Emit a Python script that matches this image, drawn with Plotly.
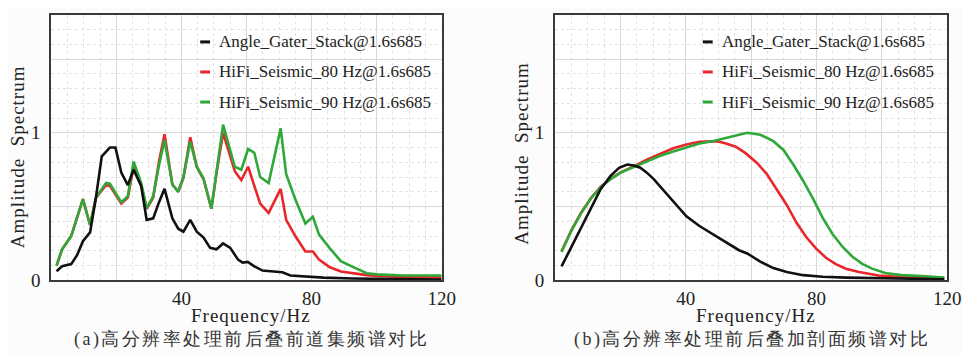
import plotly.graph_objects as go

# ---------------- data ----------------
names = ["Angle_Gater_Stack@1.6s685",
         "HiFi_Seismic_80 Hz@1.6s685",
         "HiFi_Seismic_90 Hz@1.6s685"]
colors = ["#111111", "#e8262b", "#2fa83a"]

# panel (a): prestack gathers
black_a_f = [1.6, 3.3, 6.1, 7.9, 9.7, 11.9, 13.7, 15.5, 18.0, 19.7, 21.5, 23.5, 25.3, 27.6,
             29.3, 31.3, 33.1, 34.8, 37.2, 39.0, 40.6, 42.7, 44.7, 46.8, 48.8, 50.8, 52.8,
             55.0, 57.4, 58.8, 60.4, 62.4, 64.9, 67.5, 71.0, 73.5, 77.6, 83.6, 92.7, 108.0, 120.0]
black_a = [0.062, 0.095, 0.11, 0.17, 0.265, 0.325, 0.56, 0.84, 0.90, 0.90, 0.73, 0.645, 0.75, 0.64,
           0.41, 0.42, 0.53, 0.62, 0.42, 0.35, 0.33, 0.41, 0.33, 0.29, 0.22, 0.21, 0.25,
           0.22, 0.14, 0.12, 0.125, 0.095, 0.066, 0.06, 0.055, 0.033, 0.025, 0.018, 0.012, 0.008, 0.005]

rg_a_f = [1.6, 3.3, 6.1, 9.7, 11.9, 13.7, 16.8, 18.0, 21.5, 23.5, 25.3, 27.6, 29.3, 31.3, 33.1,
          34.8, 37.2, 39.0, 40.6, 42.7, 44.7, 46.8, 49.2, 50.8, 52.8, 56.4, 58.4, 60.5, 62.4,
          64.2, 66.8, 70.5, 72.2, 75.0, 78.1, 80.4, 82.3, 85.5, 89.0, 93.0, 97.0, 100.0, 108.0, 120.0]
red_a = [0.10, 0.21, 0.30, 0.55, 0.375, 0.56, 0.645, 0.64, 0.52, 0.56, 0.77, 0.65, 0.485, 0.56, 0.805,
         0.99, 0.65, 0.60, 0.695, 0.97, 0.77, 0.685, 0.485, 0.73, 1.00, 0.74, 0.68, 0.77, 0.64,
         0.52, 0.457, 0.62, 0.41, 0.30, 0.195, 0.195, 0.14, 0.09, 0.06, 0.045, 0.035, 0.03, 0.022, 0.02]
green_a = [0.10, 0.21, 0.30, 0.55, 0.375, 0.56, 0.66, 0.655, 0.53, 0.57, 0.805, 0.66, 0.49, 0.57, 0.78,
           0.95, 0.65, 0.60, 0.70, 0.94, 0.77, 0.69, 0.485, 0.74, 1.055, 0.77, 0.75, 0.89, 0.865,
           0.70, 0.66, 1.03, 0.72, 0.55, 0.385, 0.43, 0.31, 0.22, 0.13, 0.088, 0.048, 0.04, 0.033, 0.033]

# panel (b): stacked sections
black_b_f = [2.0, 5.0, 8.0, 11.0, 14.0, 17.0, 19.6, 22.1, 24.1, 26.1, 28.1, 30.2, 33.2, 36.2,
             40.2, 44.2, 48.2, 52.3, 56.3, 58.8, 62.8, 66.8, 70.9, 75.9, 81.9, 89.0, 99.0, 119.1]
black_b = [0.094, 0.226, 0.357, 0.489, 0.62, 0.708, 0.763, 0.785, 0.778, 0.763, 0.73, 0.686, 0.61, 0.533,
           0.434, 0.368, 0.314, 0.259, 0.204, 0.182, 0.127, 0.083, 0.057, 0.035, 0.024, 0.018, 0.013, 0.007]
red_b_f = [2.0, 5.0, 8.0, 11.0, 14.0, 17.0, 20.1, 24.1, 28.1, 32.2, 36.2, 40.2, 44.2, 48.2, 50.3,
           52.3, 55.3, 58.3, 61.8, 64.8, 67.8, 70.9, 73.9, 76.9, 79.9, 82.9, 85.9, 89.0, 93.0,
           99.0, 106.0, 119.1]
red_b = [0.196, 0.338, 0.458, 0.557, 0.634, 0.688, 0.732, 0.772, 0.818, 0.855, 0.895, 0.921, 0.939, 0.943, 0.939,
         0.928, 0.906, 0.862, 0.796, 0.72, 0.62, 0.511, 0.39, 0.292, 0.215, 0.153, 0.11, 0.079, 0.057,
         0.033, 0.022, 0.013]
green_b_f = [2.0, 5.0, 8.0, 11.0, 14.0, 17.0, 20.1, 24.1, 28.1, 32.2, 36.2, 40.2, 44.2, 48.2, 52.3,
             56.3, 58.8, 62.8, 66.8, 69.9, 72.9, 75.9, 78.9, 81.9, 84.9, 88.0, 91.0, 94.0, 97.0,
             101.0, 106.0, 112.1, 119.1]
green_b = [0.193, 0.336, 0.456, 0.555, 0.632, 0.686, 0.73, 0.768, 0.807, 0.844, 0.873, 0.899, 0.928, 0.943, 0.965,
           0.987, 1.0, 0.987, 0.943, 0.884, 0.785, 0.675, 0.555, 0.423, 0.314, 0.226, 0.16, 0.112, 0.079,
           0.05, 0.035, 0.029, 0.018]

x_tickvals = [0, 20, 40, 60, 80, 100, 120]
x_ticktext = ["", "", "40", "", "80", "", "120"]
y_tickvals = [0, 0.5, 1, 1.5]
y_ticktext = ["0", "", "1", ""]
x_title = "Frequency/Hz"
y_title = "Amplitude  Spectrum"
captions = ["(a)高分辨率处理前后叠前道集频谱对比", "(b)高分辨率处理前后叠加剖面频谱对比"]

# ---------------- layout geometry ----------------
W, H = 970, 356
PANELS = [(44, 440), (555, 953)]
Y_TOP, Y_BOT = 7, 281

def px(x):
    return x / W

def py(y):
    return 1 - y / H

SERIF = "Times New Roman, Liberation Serif, serif"
TXT = "#222222"

def spaced(s, sp):
    return '<span style="letter-spacing:%spx">%s</span>' % (sp, s)

fig = go.Figure()

series = [
    [(rg_a_f, red_a, 1), (rg_a_f, green_a, 2), (black_a_f, black_a, 0)],
    [(red_b_f, red_b, 1), (green_b_f, green_b, 2), (black_b_f, black_b, 0)],
]
for p, lst in enumerate(series):
    xa = "x" if p == 0 else "x2"
    ya = "y" if p == 0 else "y2"
    for f, v, ci in lst:
        fig.add_trace(go.Scatter(x=f, y=v, mode="lines", name=names[ci],
                                 line=dict(color=colors[ci], width=2.6),
                                 xaxis=xa, yaxis=ya, showlegend=False))

common_x = dict(range=[0, 120], tickvals=x_tickvals, ticktext=x_ticktext,
                showgrid=True, gridcolor="#dcd7d7", gridwidth=1.2,
                minor=dict(tickmode="linear", tick0=0, dtick=5, showgrid=True,
                           gridcolor="#e2e2e2", griddash="dot", gridwidth=1),
                showline=True, linecolor="#3a3a3a", linewidth=2, mirror=True,
                ticks="", zeroline=False,
                tickfont=dict(family=SERIF, size=19, color=TXT))
common_y = dict(range=[0, 1.8], tickvals=y_tickvals, ticktext=y_ticktext,
                showgrid=True, gridcolor="#dcd7d7", gridwidth=1.2,
                minor=dict(tickmode="linear", tick0=0, dtick=0.1, showgrid=True,
                           gridcolor="#e2e2e2", griddash="dot", gridwidth=1),
                showline=True, linecolor="#3a3a3a", linewidth=2, mirror=True,
                ticks="", zeroline=False, ticklabelstandoff=5,
                tickfont=dict(family=SERIF, size=19, color=TXT))

ydom = [py(Y_BOT), py(Y_TOP)]
fig.update_layout(
    xaxis=dict(domain=[px(PANELS[0][0]), px(PANELS[0][1])], anchor="y", **common_x),
    yaxis=dict(domain=ydom, anchor="x", **common_y),
    xaxis2=dict(domain=[px(PANELS[1][0]), px(PANELS[1][1])], anchor="y2", **common_x),
    yaxis2=dict(domain=ydom, anchor="x2", **common_y),
)

annotations = []
shapes = []
# legends
leg = [  # (box x0, box x1, symbol x0, text x) in px
    (190, 437, 195, 212),
    (697, 946, 705, 722),
]
leg_rows = [35, 66, 97]
for p, (bx0, bx1, sx0, tx) in enumerate(leg):
    xr = "x domain" if p == 0 else "x2 domain"
    yr = "y domain" if p == 0 else "y2 domain"
    a0, a1 = PANELS[p]
    shapes.append(dict(type="rect", xref=xr, yref=yr, layer="below",
                       x0=(bx0 - a0) / (a1 - a0), x1=(bx1 - a0) / (a1 - a0),
                       y0=(Y_BOT - 110) / (Y_BOT - Y_TOP), y1=(Y_BOT - 22) / (Y_BOT - Y_TOP),
                       fillcolor="white", line=dict(width=0)))
    for i, ry in enumerate(leg_rows):
        shapes.append(dict(type="line", xref="paper", yref="paper",
                           x0=px(sx0), x1=px(sx0 + 10), y0=py(ry), y1=py(ry),
                           line=dict(color=colors[i], width=3)))
        annotations.append(dict(text=names[i], xref="paper", yref="paper",
                                x=px(tx), y=py(ry), xanchor="left", yanchor="middle",
                                showarrow=False,
                                font=dict(family=SERIF, size=17, color=TXT)))

# axis titles and captions
xt_cx = [247, 759]
yt_cx = [9, 521]
yt_cy = [153, 150]
cap_cx = [247, 755]
for p in range(2):
    annotations.append(dict(text=spaced(x_title, 1), xref="paper", yref="paper",
                            x=px(xt_cx[p]), y=py(317), xanchor="center", yanchor="middle",
                            showarrow=False, font=dict(family=SERIF, size=19, color=TXT)))
    annotations.append(dict(text=spaced(y_title, 1), xref="paper", yref="paper", textangle=-90,
                            x=px(yt_cx[p]), y=py(yt_cy[p]), xanchor="center", yanchor="middle",
                            showarrow=False, font=dict(family=SERIF, size=19, color=TXT)))
    annotations.append(dict(text=spaced(captions[p], 2.5), xref="paper", yref="paper",
                            x=px(cap_cx[p]), y=py(342), xanchor="center", yanchor="middle",
                            showarrow=False,
                            font=dict(family=SERIF, size=18, color="#333333")))

fig.update_layout(width=W, height=H, margin=dict(l=0, r=0, t=0, b=0),
                  paper_bgcolor="#fcfcfc", plot_bgcolor="white",
                  annotations=annotations, shapes=shapes, showlegend=False)

fig.write_html("out.html")
